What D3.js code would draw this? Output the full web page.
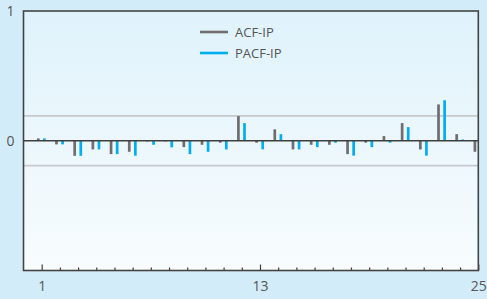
<!DOCTYPE html>
<html>
<head>
<meta charset="utf-8">
<script src="https://cdn.jsdelivr.net/npm/d3@7"></script>
<style>
  html, body { margin: 0; padding: 0; background: #d3ecf9; }
  svg { display: block; }
  text { font-family: "Open Sans", "Noto Sans", sans-serif; }
</style>
</head>
<body>
<svg id="chart" width="487" height="299"></svg>
<script>
// ---- data ----
const lags = d3.range(1, 26);
const acfIP = [0.018, -0.028, -0.116, -0.067, -0.103, -0.085, -0.005, -0.005, -0.049, -0.031, -0.015, 0.19,
               -0.015, 0.088, -0.067, -0.031, -0.031, -0.103, -0.015, 0.036, 0.136, -0.067, 0.28, 0.051, -0.085];
const pacfIP = [0.018, -0.028, -0.116, -0.067, -0.103, -0.115, -0.031, -0.051, -0.103, -0.085, -0.067, 0.136,
                -0.066, 0.051, -0.067, -0.049, -0.015, -0.115, -0.049, -0.015, 0.105, -0.115, 0.312, 0.01, 0];
const seriesNames = ["ACF-IP", "PACF-IP"];
const seriesColors = ["#6e6e6e", "#00aeef"];
const confBand = 0.192;
const yTickValues = [0, 1];
const xLabelValues = [1, 13, 25];

// ---- layout ----
const svg = d3.select("#chart");
const mLeft = 23.5, mRight = 478.3, mTop = 11, mBottom = 270.5;

const x = d3.scaleLinear().domain([0, 25]).range([mLeft, mRight]);
const y = d3.scaleLinear().domain([-1, 1]).range([mBottom, mTop]);

// background gradient of plot area
const defs = svg.append("defs");
const grad = defs.append("linearGradient").attr("id", "bg").attr("x1", 0).attr("y1", 0).attr("x2", 0).attr("y2", 1);
grad.append("stop").attr("offset", "0%").attr("stop-color", "#dff2fb");
grad.append("stop").attr("offset", "100%").attr("stop-color", "#f8fcfe");
defs.append("clipPath").attr("id", "clip").append("rect")
  .attr("x", mLeft).attr("y", mTop).attr("width", mRight - mLeft).attr("height", mBottom - mTop);

svg.append("rect").attr("x", mLeft).attr("y", mTop).attr("width", mRight - mLeft).attr("height", mBottom - mTop)
  .attr("fill", "url(#bg)");

const plot = svg.append("g").attr("clip-path", "url(#clip)");

// confidence band lines
plot.selectAll("line.band").data([confBand, -confBand]).join("line")
  .attr("class", "band")
  .attr("x1", mLeft).attr("x2", mRight)
  .attr("y1", d => y(d)).attr("y2", d => y(d))
  .attr("stroke", "#c5c9cc").attr("stroke-width", 1.8);

// bars
const barW = 2.7;
const offsets = [-3.4, 2.7];
[acfIP, pacfIP].forEach((vals, si) => {
  plot.selectAll("rect.s" + si).data(lags).join("rect")
    .attr("class", "s" + si)
    .attr("x", d => x(d) + offsets[si] - barW / 2)
    .attr("width", barW)
    .attr("y", (d, i) => y(Math.max(0, vals[i])))
    .attr("height", (d, i) => Math.abs(y(vals[i]) - y(0)))
    .attr("fill", seriesColors[si]);
});

// zero line
plot.append("line").attr("x1", mLeft).attr("x2", mRight).attr("y1", y(0)).attr("y2", y(0))
  .attr("stroke", "#3f3f3f").attr("stroke-width", 1.3);

// x axis ticks (inside)
const xAxis = d3.axisBottom(x).tickValues(lags)
  .tickSize(0).tickPadding(11)
  .tickFormat(d => xLabelValues.includes(d) ? d : "");
const gx = svg.append("g").attr("transform", `translate(0,${mBottom})`).call(xAxis);
gx.select(".domain").remove();
gx.selectAll(".tick line")
  .attr("y2", d => xLabelValues.includes(d) ? -6 : -3)
  .attr("stroke", "#3f3f3f").attr("stroke-width", 1.2);
gx.selectAll(".tick text").attr("font-size", 14).attr("fill", "#555");

// y axis labels
const yAxis = d3.axisLeft(y).tickValues(yTickValues).tickSize(0).tickPadding(9).tickFormat(d3.format("d"));
const gy = svg.append("g").attr("transform", `translate(${mLeft},0)`).call(yAxis);
gy.select(".domain").remove();
gy.selectAll(".tick text").attr("font-size", 14).attr("fill", "#555");

// frame
svg.append("rect").attr("x", mLeft).attr("y", mTop).attr("width", mRight - mLeft).attr("height", mBottom - mTop)
  .attr("fill", "none").attr("stroke", "#444").attr("stroke-width", 1.6);

// legend
const legend = svg.append("g");
seriesNames.forEach((name, i) => {
  const ly = 32 + i * 21;
  legend.append("line").attr("x1", 200).attr("x2", 228).attr("y1", ly).attr("y2", ly)
    .attr("stroke", seriesColors[i]).attr("stroke-width", 2.6);
  legend.append("text").attr("x", 235).attr("y", ly).attr("dy", "0.36em")
    .attr("font-size", 13).attr("fill", "#555").text(name);
});
</script>
</body>
</html>
